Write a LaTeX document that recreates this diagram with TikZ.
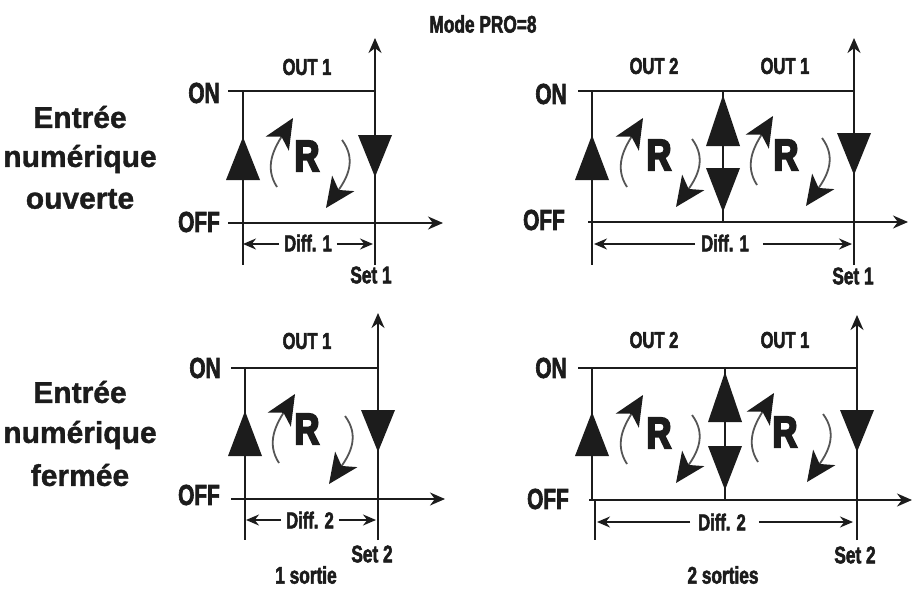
\documentclass[tikz,border=0pt]{standalone}
\usepackage{fontspec}
\usetikzlibrary{arrows.meta}
\newfontfamily\condfont[UprightFont=* Bold,FakeStretch=0.72,FakeBold=2.2]{Liberation Sans}
\newfontfamily\rfont[UprightFont=* Bold,FakeStretch=0.78,FakeBold=4.5]{Liberation Sans}
\newfontfamily\headfont[UprightFont=* Bold,FakeStretch=1.0,FakeBold=1.2]{Liberation Sans}
\definecolor{ink}{HTML}{1C1C1C}
\tikzset{
  axis/.style={draw=ink,line width=1.9pt},
  axisarrow/.style={axis,-{Stealth[length=15pt,width=13pt]}},
  tri/.style={fill=ink,draw=none},
  rot/.style={draw=ink!75,line width=1.8pt,-{Stealth[length=30pt,width=27pt,inset=8pt,ink]}},
  dim/.style={draw=ink,line width=1.6pt,-{Stealth[length=13pt,width=11pt]}},
  lab/.style={font=\condfont\fontsize{23}{25}\selectfont,text=ink,inner sep=0pt},
  setlab/.style={font=\condfont\fontsize{24}{26}\selectfont,text=ink,inner sep=0pt},
  sublab/.style={font=\condfont\fontsize{24}{25}\selectfont,text=ink,inner sep=0pt},
  state/.style={font=\condfont\fontsize{29}{31}\selectfont,text=ink,inner sep=0pt},
  rlab/.style={font=\rfont\fontsize{44}{46}\selectfont,text=ink,inner sep=0pt},
  head/.style={font=\headfont\fontsize{30}{32}\selectfont,text=ink,inner sep=0pt},
}
% prefix, xleft, xright, yON, yOFF, ytop, ybottom, xOnStart, xOffStart
\newcommand\framepanel[9]{
  \coordinate (#1lt) at (#2,#4); \coordinate (#1lb) at (#2,#7);
  \coordinate (#1rb) at (#3,#7); \coordinate (#1rt) at (#3,#6);
  \coordinate (#1ons) at (#8,#4); \coordinate (#1one) at (#3,#4);
  \coordinate (#1ofs) at (#9,#5);
  \draw[axisarrow] (#1rb) -- (#1rt);
  \draw[axis] (#1ons) -- (#1one);
}
\newcommand\uptri[3]{\fill[tri] (#1,#2) -- (#1+17,#3) -- (#1-17,#3) -- cycle;}
\newcommand\downtri[3]{\fill[tri] (#1,#2) -- (#1+17,#3) -- (#1-17,#3) -- cycle;}
% x,y of lower start of the rising curve
\newcommand\riser[2]{\draw[rot] (#1,#2) .. controls (#1-13,#2-20) and (#1-3,#2-38) .. (#1+16,#2-69);}
% x,y of upper start of the falling curve
\newcommand\faller[2]{\draw[rot] (#1,#2) .. controls (#1+15,#2+20) and (#1+5,#2+38) .. (#1-16,#2+68);}
\begin{document}
\begin{tikzpicture}[x=1pt,y=-1pt]
\useasboundingbox (0,0) rectangle (917,589);
\fill[white] (0,0) rectangle (917,589);

\node[setlab] (title) at (483,24) {Mode PRO=8};

\node[head] (h1a) at (80,117) {Entrée};
\node[head] (h1b) at (80,159) {numérique};
\node[head] (h1c) at (80,199) {ouverte};
\node[head] (h2a) at (80,392) {Entrée};
\node[head] (h2b) at (80,435) {numérique};
\node[head] (h2c) at (80,475) {fermée};

% top left
\framepanel{a}{243}{375}{91}{223}{38}{265}{228}{228}
\draw[axis] (alt) -- (alb);
\coordinate (aofe) at (443,223);
\draw[axisarrow] (aofs) -- (aofe);
\uptri{243}{137}{180}
\downtri{375}{177}{135}
\riser{277}{187}
\faller{342}{140}
\node[rlab] (aR) at (307,156) {R};
\node[lab] (aout) at (307,67) {OUT 1};
\node[state] (aon) at (204,93) {ON};
\node[state] (aoff) at (199,222) {OFF};
\node[lab] (adiff) at (308,243) {Diff. 1};
\node[setlab,fill=white,inner xsep=1pt] (aset) at (371,275) {Set 1};
\coordinate (ad1) at (243,244); \coordinate (ad2) at (373,244);
\draw[dim] (adiff.west)++(-5,1) -- (ad1);
\draw[dim] (adiff.east)++(5,1) -- (ad2);

% top right
\framepanel{b}{592}{854}{91}{222}{38}{265}{578}{588}
\draw[axis] (blt) -- (blb);
\coordinate (bofe) at (908,222);
\draw[axisarrow] (bofs) -- (bofe);
\coordinate (bmt) at (723,91); \coordinate (bmb) at (723,222);
\draw[axis] (bmt) -- (bmb);
\uptri{592}{135}{180}
\uptri{723}{95}{146}
\downtri{723}{212}{168}
\downtri{854}{175}{133}
\riser{627}{187}
\faller{692}{139}
\riser{757}{185}
\faller{822}{138}
\node[rlab] (bR1) at (659,155) {R};
\node[rlab] (bR2) at (786,155) {R};
\node[lab] (bout2) at (654,66) {OUT 2};
\node[lab] (bout1) at (785,66) {OUT 1};
\node[state] (bon) at (551,94) {ON};
\node[state] (boff) at (544,220) {OFF};
\node[lab] (bdiff) at (725,243) {Diff. 1};
\node[setlab,fill=white,inner xsep=1pt] (bset) at (853,276) {Set 1};
\coordinate (bd1) at (594,244); \coordinate (bd2) at (852,244);
\draw[dim] (bdiff.west)++(-6,1) -- (bd1);
\draw[dim] (bdiff.east)++(14,1) -- (bd2);

% bottom left
\framepanel{c}{245}{378}{368}{499}{313}{540}{231}{231}
\draw[axis] (clt) -- (clb);
\coordinate (cofe) at (445,499);
\draw[axisarrow] (cofs) -- (cofe);
\uptri{245}{411}{456}
\downtri{378}{452}{410}
\riser{279}{463}
\faller{345}{416}
\node[rlab] (cR) at (307,429) {R};
\node[lab] (cout) at (307,341) {OUT 1};
\node[state] (con) at (205,368) {ON};
\node[state] (coff) at (199,495) {OFF};
\node[lab] (cdiff) at (310,520) {Diff. 2};
\node[setlab,fill=white,inner xsep=1pt] (cset) at (372,554) {Set 2};
\coordinate (cd1) at (246,520); \coordinate (cd2) at (376,520);
\draw[dim] (cdiff.west)++(-5,0) -- (cd1);
\draw[dim] (cdiff.east)++(5,0) -- (cd2);
\node[sublab] (csub) at (306,575) {1 sortie};

% bottom right
\framepanel{d}{592}{857}{368}{500}{315}{540}{578}{589}
\coordinate (dlj) at (592,500);
\draw[axis] (dlt) -- (dlj);
\coordinate (dofe) at (912,500);
\draw[axisarrow] (dofs) -- (dofe);
\coordinate (dmt) at (725,368); \coordinate (dmb) at (725,500);
\draw[axis] (dmt) -- (dmb);
\coordinate (dbl1) at (595,500); \coordinate (dbl2) at (595,540);
\draw[axis] (dbl1) -- (dbl2);
\uptri{592}{412}{456}
\uptri{725}{372}{422}
\downtri{725}{490}{446}
\downtri{857}{452}{410}
\riser{627}{464}
\faller{692}{415}
\riser{758}{462}
\faller{823}{414}
\node[rlab] (dR1) at (659,433) {R};
\node[rlab] (dR2) at (785,432) {R};
\node[lab] (dout2) at (654,340) {OUT 2};
\node[lab] (dout1) at (785,340) {OUT 1};
\node[state] (don) at (551,368) {ON};
\node[state] (doff) at (548,499) {OFF};
\node[lab] (ddiff) at (722,522) {Diff. 2};
\node[setlab,fill=white,inner xsep=1pt] (dset) at (855,555) {Set 2};
\coordinate (dd1) at (597,522); \coordinate (dd2) at (853,522);
\draw[dim] (ddiff.west)++(-8,0) -- (dd1);
\draw[dim] (ddiff.east)++(13,0) -- (dd2);
\node[sublab] (dsub) at (723,575) {2 sorties};
\end{tikzpicture}
\end{document}
